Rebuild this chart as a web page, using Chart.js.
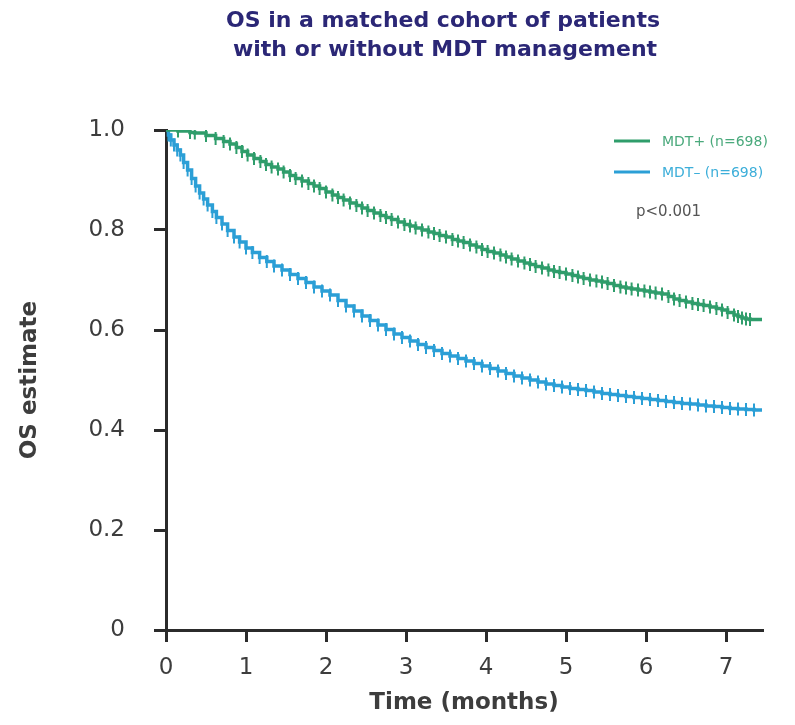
<!DOCTYPE html>
<html>
<head>
<meta charset="utf-8">
<script src="https://cdn.jsdelivr.net/npm/chart.js@4"></script>
<style>
  body { margin: 0; background: #fff; }
  #wrap { width: 795px; height: 725px; }
</style>
</head>
<body>
<div id="wrap"><canvas id="osChart" width="795" height="725"></canvas></div>
<script>
// Kaplan-Meier estimates (time in months, OS estimate)
const mdtPlusTime = [
  0, 0.15, 0.3, 0.36, 0.5, 0.62, 0.72, 0.8, 0.88, 0.95,
  1.02, 1.1, 1.18, 1.25, 1.32, 1.4, 1.47, 1.55, 1.62, 1.7,
  1.78, 1.85, 1.92, 2.0, 2.08, 2.15, 2.22, 2.3, 2.38, 2.45,
  2.52, 2.6, 2.68, 2.75, 2.82, 2.9, 2.98, 3.05, 3.12, 3.2,
  3.28, 3.35, 3.42, 3.5, 3.58, 3.65, 3.72, 3.8, 3.88, 3.95,
  4.02, 4.1, 4.18, 4.25, 4.32, 4.4, 4.48, 4.55, 4.62, 4.7,
  4.78, 4.85, 4.92, 5.0, 5.08, 5.15, 5.22, 5.3, 5.38, 5.45,
  5.52, 5.6, 5.68, 5.75, 5.82, 5.9, 5.98, 6.05, 6.12, 6.2,
  6.28, 6.35, 6.42, 6.5, 6.58, 6.65, 6.72, 6.8, 6.88, 6.95,
  7.02, 7.1, 7.15, 7.2, 7.25, 7.3, 7.45
];
const mdtPlusOS = [
  1.000, 0.998, 0.995, 0.994, 0.989, 0.983, 0.977, 0.972, 0.965, 0.957,
  0.950, 0.943, 0.937, 0.931, 0.926, 0.922, 0.916, 0.909, 0.903, 0.898,
  0.893, 0.888, 0.883, 0.876, 0.870, 0.865, 0.860, 0.854, 0.849, 0.844,
  0.839, 0.834, 0.829, 0.825, 0.821, 0.816, 0.811, 0.808, 0.804, 0.800,
  0.796, 0.793, 0.789, 0.786, 0.781, 0.778, 0.775, 0.770, 0.766, 0.761,
  0.757, 0.754, 0.750, 0.746, 0.742, 0.738, 0.734, 0.731, 0.727, 0.724,
  0.720, 0.717, 0.715, 0.712, 0.709, 0.706, 0.703, 0.700, 0.698, 0.696,
  0.693, 0.689, 0.686, 0.684, 0.682, 0.680, 0.678, 0.676, 0.674, 0.672,
  0.667, 0.662, 0.659, 0.656, 0.653, 0.651, 0.649, 0.646, 0.643, 0.640,
  0.635, 0.630, 0.627, 0.624, 0.622, 0.621, 0.621
];

const mdtMinusTime = [
  0, 0.03, 0.06, 0.1, 0.14, 0.18, 0.22, 0.27, 0.32, 0.37,
  0.42, 0.47, 0.52, 0.58, 0.63, 0.7, 0.77, 0.85, 0.92, 1.0,
  1.08, 1.17, 1.26, 1.35, 1.45, 1.55, 1.65, 1.75, 1.85, 1.95,
  2.05, 2.15, 2.25, 2.35, 2.45, 2.55, 2.65, 2.75, 2.85, 2.95,
  3.05, 3.15, 3.25, 3.35, 3.45, 3.55, 3.65, 3.75, 3.85, 3.95,
  4.05, 4.15, 4.25, 4.35, 4.45, 4.55, 4.65, 4.75, 4.85, 4.95,
  5.05, 5.15, 5.25, 5.35, 5.45, 5.55, 5.65, 5.75, 5.85, 5.95,
  6.05, 6.15, 6.25, 6.35, 6.45, 6.55, 6.65, 6.75, 6.85, 6.95,
  7.05, 7.15, 7.25, 7.35, 7.45
];
const mdtMinusOS = [
  1.000, 0.990, 0.980, 0.970, 0.960, 0.950, 0.935, 0.920, 0.903, 0.888,
  0.874, 0.862, 0.850, 0.837, 0.825, 0.812, 0.799, 0.786, 0.776, 0.764,
  0.755, 0.745, 0.737, 0.728, 0.720, 0.711, 0.703, 0.695, 0.686, 0.678,
  0.670, 0.659, 0.648, 0.638, 0.628, 0.619, 0.610, 0.601, 0.592, 0.585,
  0.578, 0.571, 0.565, 0.559, 0.553, 0.548, 0.543, 0.538, 0.533, 0.528,
  0.523, 0.518, 0.513, 0.508, 0.504, 0.500, 0.496, 0.492, 0.489, 0.486,
  0.483, 0.481, 0.479, 0.476, 0.473, 0.471, 0.469, 0.467, 0.465, 0.463,
  0.461, 0.459, 0.457, 0.455, 0.453, 0.452, 0.450, 0.448, 0.447, 0.445,
  0.443, 0.442, 0.441, 0.440, 0.440
];

const xTicks = [0, 1, 2, 3, 4, 5, 6, 7];
const yTicks = [0, 0.2, 0.4, 0.6, 0.8, 1.0];
const yTickLabels = ['0', '0.2', '0.4', '0.6', '0.8', '1.0'];

const seriesNames = ['MDT+ (n=698)', 'MDT\u2013 (n=698)'];
const titleLines = ['OS in a matched cohort of patients', 'with or without MDT management'];
const pValueText = 'p<0.001';

const greenLine = '#2f9d6b';
const blueLine = '#2b9fd6';
const axisColor = '#2b2b2b';
const labelColor = '#3d3d3d';
const fontFamily = '"DejaVu Sans", sans-serif';

function toPoints(times, values) {
    return times.map((t, i) => ({ x: t, y: values[i] }));
}

// censor marks on every point except the curve ends
function censorRadius(ctx) {
    const n = ctx.dataset.data.length;
    return (ctx.dataIndex === 0 || ctx.dataIndex === n - 1) ? 0 : 6.5;
}

const overlayPlugin = {
    id: 'overlay',
    afterDraw(chart) {
        const c = chart.ctx;
        c.save();

        // title
        c.fillStyle = '#2b2776';
        c.font = 'bold 22px ' + fontFamily;
        c.textAlign = 'center';
        c.textBaseline = 'middle';
        c.fillText(titleLines[0], 443, 21);
        c.fillText(titleLines[1], 445, 50);

        // legend
        const legendColors = [[greenLine, '#4aa97c'], [blueLine, '#3caed9']];
        c.font = '14px ' + fontFamily;
        c.textAlign = 'left';
        seriesNames.forEach((name, i) => {
            const y = 141 + i * 31;
            c.strokeStyle = legendColors[i][0];
            c.lineWidth = 3;
            c.beginPath();
            c.moveTo(614, y);
            c.lineTo(650, y);
            c.stroke();
            c.fillStyle = legendColors[i][1];
            c.fillText(name, 662, y + 1);
        });

        c.fillStyle = '#555';
        c.font = '15px ' + fontFamily;
        c.fillText(pValueText, 636, 212);
        c.restore();
    }
};

const ctx = document.getElementById('osChart').getContext('2d');
new Chart(ctx, {
    type: 'line',
    data: {
        datasets: [{
            label: seriesNames[0],
            data: toPoints(mdtPlusTime, mdtPlusOS),
            borderColor: greenLine,
            backgroundColor: greenLine,
            borderWidth: 3.5,
            stepped: true,
            pointStyle: 'line',
            pointRotation: 90,
            pointRadius: censorRadius,
            pointBorderWidth: 2,
            pointBorderColor: greenLine
        }, {
            label: seriesNames[1],
            data: toPoints(mdtMinusTime, mdtMinusOS),
            borderColor: blueLine,
            backgroundColor: blueLine,
            borderWidth: 3.5,
            stepped: true,
            pointStyle: 'line',
            pointRotation: 90,
            pointRadius: censorRadius,
            pointBorderWidth: 2,
            pointBorderColor: blueLine
        }]
    },
    options: {
        responsive: false,
        animation: false,
        layout: { padding: { left: 0, right: 33, top: 130, bottom: 0 } },
        plugins: {
            legend: { display: false },
            tooltip: { enabled: false }
        },
        scales: {
            x: {
                type: 'linear',
                min: 0,
                max: 7.45,
                afterFit: s => { s.height = 95; },
                afterBuildTicks: s => { s.ticks = xTicks.map(v => ({ value: v })); },
                border: { color: axisColor, width: 3 },
                grid: { drawOnChartArea: false, tickLength: 12, color: axisColor, lineWidth: 3 },
                ticks: {
                    padding: 12,
                    color: labelColor,
                    font: { family: fontFamily, size: 23 },
                    maxRotation: 0
                },
                title: {
                    display: true,
                    text: 'Time (months)',
                    color: labelColor,
                    font: { family: fontFamily, size: 23, weight: 'bold' },
                    padding: { top: 0, bottom: 8 }
                }
            },
            y: {
                min: 0,
                max: 1,
                afterFit: s => { s.width = 166; },
                afterBuildTicks: s => { s.ticks = yTicks.map(v => ({ value: v })); },
                border: { color: axisColor, width: 3 },
                grid: { drawOnChartArea: false, tickLength: 12, color: axisColor, lineWidth: 3 },
                ticks: {
                    padding: 29,
                    color: labelColor,
                    font: { family: fontFamily, size: 23 },
                    callback: (v, i) => yTickLabels[i]
                },
                title: {
                    display: true,
                    text: 'OS estimate',
                    color: labelColor,
                    font: { family: fontFamily, size: 23, weight: 'bold' },
                    padding: { top: 16, bottom: 0 }
                }
            }
        }
    },
    plugins: [overlayPlugin]
});
</script>
</body>
</html>
